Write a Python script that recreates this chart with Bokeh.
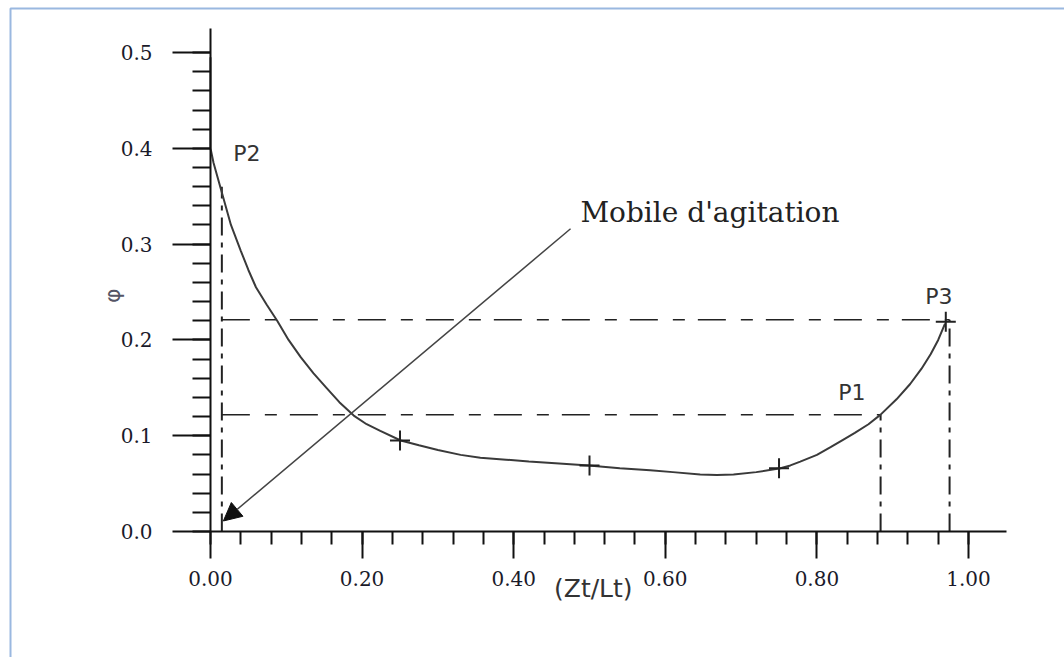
import math
from bokeh.plotting import figure
from bokeh.models import (Label, Arrow, NormalHead, FixedTicker, Range1d,
                          BoxAnnotation)
from bokeh.embed import file_html
from bokeh.resources import INLINE

# ---- data ----
curve_x = [0.000, 0.000, 0.000, 0.004, 0.016, 0.027, 0.040, 0.050, 0.060, 0.074,
           0.088, 0.103, 0.119, 0.136, 0.153, 0.170, 0.189, 0.206, 0.224, 0.251,
           0.275, 0.300, 0.330, 0.356, 0.390, 0.420, 0.460, 0.499, 0.540, 0.580,
           0.610, 0.646, 0.668, 0.690, 0.720, 0.752, 0.765, 0.778, 0.800, 0.818,
           0.835, 0.850, 0.868, 0.884, 0.905, 0.923, 0.938, 0.950, 0.960, 0.969]
curve_y = [0.495, 0.450, 0.400, 0.385, 0.351, 0.320, 0.293, 0.273, 0.255, 0.237,
           0.220, 0.200, 0.182, 0.165, 0.150, 0.135, 0.121, 0.112, 0.105, 0.095,
           0.090, 0.085, 0.080, 0.077, 0.075, 0.073, 0.071, 0.069, 0.066, 0.064,
           0.062, 0.0595, 0.059, 0.0595, 0.062, 0.066, 0.069, 0.073, 0.080, 0.088,
           0.096, 0.103, 0.112, 0.122, 0.138, 0.154, 0.170, 0.185, 0.200, 0.217]

marker_x = [0.25, 0.50, 0.75, 0.970]
marker_y = [0.095, 0.069, 0.066, 0.219]

# horizontal dashed guides (P1, P3)
h_y = [0.122, 0.221]
h_x0 = [0.015, 0.015]
h_x1 = [0.884, 0.975]
# vertical dash-dot guides (P2, P1, P3)
v_x = [0.015, 0.884, 0.975]
v_y0 = [0.0, 0.0, 0.0]
v_y1 = [0.36, 0.122, 0.221]

# mobile d'agitation arrow
mob_start = (0.475, 0.316)
mob_end = (0.017, 0.011)

point_labels = ["P2", "P1", "P3"]
point_label_x = [0.030, 0.828, 0.943]
point_label_y = [0.395, 0.145, 0.245]

x_ticks = [0.0, 0.2, 0.4, 0.6, 0.8, 1.0]
x_tick_labels = ["0.00", "0.20", "0.40", "0.60", "0.80", "1.00"]
y_ticks = [0.0, 0.1, 0.2, 0.3, 0.4, 0.5]
y_tick_labels = ["0.0", "0.1", "0.2", "0.3", "0.4", "0.5"]
x_minor = [i * 0.04 for i in range(26)]
y_minor = [i * 0.02 for i in range(26)]

# ---- figure: frame covers the whole canvas, axes fixed at 0 ----
p = figure(width=1064, height=657, output_backend="svg", toolbar_location=None,
           x_range=Range1d(-0.2770, 1.1266), y_range=Range1d(-0.1315, 0.5543),
           min_border=0)
p.xgrid.visible = False
p.ygrid.visible = False
p.outline_line_color = None
p.background_fill_color = "white"
p.border_fill_color = "white"

for ax, ticks, labels, minor in ((p.xaxis[0], x_ticks, x_tick_labels, x_minor),
                                  (p.yaxis[0], y_ticks, y_tick_labels, y_minor)):
    ax.fixed_location = 0
    ax.ticker = FixedTicker(ticks=ticks, minor_ticks=minor)
    ax.major_label_overrides = {t: l for t, l in zip(ticks, labels)}
    ax.axis_line_color = "#111111"
    ax.axis_line_width = 2
    ax.major_tick_line_color = "#111111"
    ax.major_tick_line_width = 2
    ax.minor_tick_line_color = "#111111"
    ax.minor_tick_line_width = 2
    ax.major_tick_in = 0
    ax.minor_tick_in = 0
    ax.major_label_text_font = "DejaVu Serif"
    ax.major_label_text_font_size = "20px"
    ax.major_label_text_color = "#1a1a2a"

p.xaxis.bounds = (0.0, 1.05)
p.yaxis.bounds = (0.0, 0.525)
p.xaxis.major_tick_out = 27
p.xaxis.minor_tick_out = 13
p.xaxis.major_label_standoff = 12
p.yaxis.major_tick_out = 38
p.yaxis.minor_tick_out = 18
p.yaxis.major_label_standoff = 20

# page frame
p.add_layout(BoxAnnotation(left=-0.2638, right=1.3, top=0.5460, bottom=-0.2,
                           fill_alpha=0, line_color="#9ab8e0", line_alpha=1,
                           line_width=2))

# guides
p.segment(x0=h_x0, y0=h_y, x1=h_x1, y1=h_y, line_color="#222222",
          line_width=1.5, line_dash="28 15 12 13")
p.segment(x0=v_x, y0=v_y0, x1=v_x, y1=v_y1, line_color="#222222",
          line_width=2, line_dash="18 7 5 7")

# curve
p.line(curve_x, curve_y, line_color="#3a3a3a", line_width=2)
p.scatter(marker_x, marker_y, marker="cross", size=20, line_color="#222222",
          line_width=2)

# mobile arrow
p.add_layout(Arrow(end=NormalHead(size=18, fill_color="#111111",
                                  line_color="#111111"),
                   x_start=mob_start[0], y_start=mob_start[1],
                   x_end=mob_end[0], y_end=mob_end[1],
                   line_color="#444444", line_width=1.5))
p.add_layout(Label(x=0.488, y=0.333, text="Mobile d'agitation",
                   text_font="DejaVu Serif", text_font_size="28px",
                   text_color="#222222", text_baseline="middle"))

for t, lx, ly in zip(point_labels, point_label_x, point_label_y):
    p.add_layout(Label(x=lx, y=ly, text=t, text_font="DejaVu Sans",
                       text_font_size="22px", text_color="#333333",
                       text_baseline="middle"))

# axis titles
p.add_layout(Label(x=0.505, y=-0.0595, text="(Zt/Lt)", text_font="DejaVu Sans",
                   text_font_size="25px", text_color="#333333",
                   text_align="center", text_baseline="middle"))
p.add_layout(Label(x=-0.129, y=0.246, text="φ", text_font="DejaVu Sans",
                   text_font_size="22px", text_color="#555566",
                   text_align="center", text_baseline="middle",
                   angle=math.pi / 2))

open("out.html", "w").write(file_html(p, INLINE))
